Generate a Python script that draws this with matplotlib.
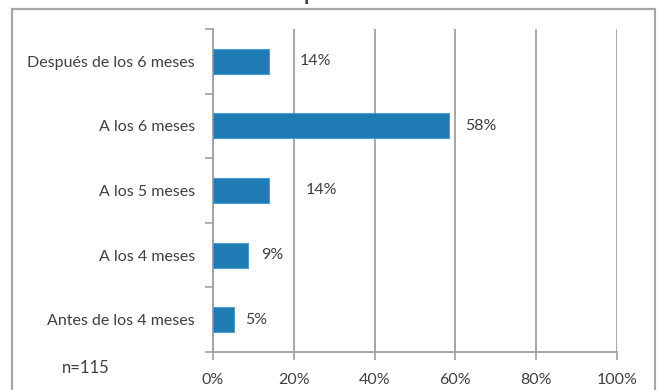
import matplotlib
matplotlib.use("Agg")
import matplotlib.pyplot as plt
from matplotlib.patches import Rectangle
from matplotlib.ticker import FixedLocator, PercentFormatter

# Data (share of n=115)
categories = [
    "Antes de los 4 meses",
    "A los 4 meses",
    "A los 5 meses",
    "A los 6 meses",
    "Después de los 6 meses",
]
values = [5.2, 8.7, 13.9, 58.3, 13.9]
labels = ["5%", "9%", "14%", "58%", "14%"]
x_ticks = [0, 20, 40, 60, 80, 100]
sample_note = "n=115"
title = "Edad de incorporación de alimentos"

# label offsets from bar end, in points (hand placed in the original)
label_offsets = [8, 9, 26, 12, 22]

plt.rcParams["font.family"] = ["Lato", "DejaVu Sans"]
text_color = "#404040"
grid_color = "#a0a0a0"
bar_color = "#1f7bb4"
fs = 11.5

fig = plt.figure(figsize=(6.59, 3.9), dpi=100)
ax = fig.add_axes([213 / 659, 38 / 390, 404 / 659, 323 / 390])

# Outer chart frame
fig.patches.append(
    Rectangle((12 / 659, -0.05), 643 / 659, 1.05 - 9 / 390,
              transform=fig.transFigure, fill=False,
              edgecolor="#a6a6a6", linewidth=1.6)
)

y = list(range(len(categories)))
ax.barh(y, values, height=0.39, color=bar_color, edgecolor="#4a9bd0",
        linewidth=0.8, zorder=3)

for yi, v, lab, off in zip(y, values, labels, label_offsets):
    ax.annotate(lab, (v, yi), xytext=(off, 0), textcoords="offset points",
                va="center", ha="left", fontsize=fs, color=text_color)

ax.set_xlim(0, 100)
ax.set_ylim(-0.5, len(categories) - 0.5)
ax.set_xticks(x_ticks)
ax.xaxis.set_major_formatter(PercentFormatter(decimals=0))
ax.grid(axis="x", color=grid_color, linewidth=1.3, zorder=0)

ax.set_yticks(y)
ax.set_yticklabels(categories)
ax.yaxis.set_minor_locator(FixedLocator([i - 0.5 for i in range(len(categories) + 1)]))
ax.tick_params(axis="y", which="major", length=0, pad=13, labelsize=fs,
               labelcolor=text_color)
ax.tick_params(axis="y", which="minor", length=6, width=1.2, color=grid_color,
               direction="out")
ax.tick_params(axis="x", length=6, width=1.2, color=grid_color, pad=9,
               labelsize=fs, labelcolor=text_color)

for side in ["top", "right"]:
    ax.spines[side].set_visible(False)
for side in ["left", "bottom"]:
    ax.spines[side].set_color(grid_color)
    ax.spines[side].set_linewidth(1.3)

fig.text(62 / 659, 1 - 368 / 390, sample_note, fontsize=12, color=text_color,
         va="center", ha="left")
# title sits above the visible area in the reference; only its foot shows
fig.text(342 / 659, 1 + 0.5 / 390, title, fontsize=14.5, fontweight="bold",
         color=text_color, ha="center", va="baseline")

fig.savefig("out.png", dpi=100)
